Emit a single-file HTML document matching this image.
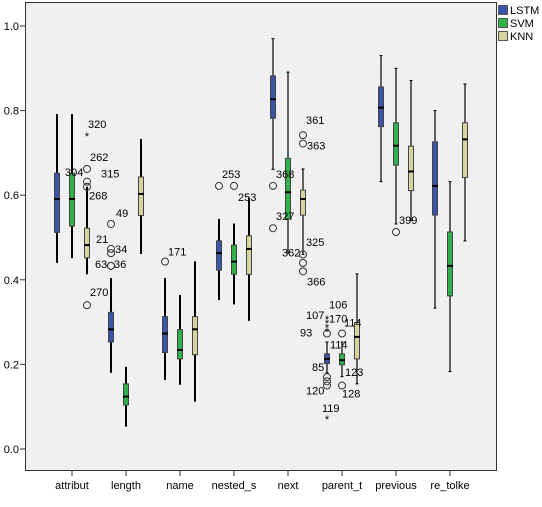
<!DOCTYPE html>
<html><head><meta charset="utf-8"><style>
body{margin:0;background:#fff;width:542px;height:502px;overflow:hidden;font-family:"Liberation Sans",sans-serif}
svg text{font-family:"Liberation Sans",sans-serif;font-size:11px;fill:#000}
</style></head><body>
<svg id="chart" width="542" height="502" xmlns="http://www.w3.org/2000/svg">
<rect x="25.5" y="2.5" width="471" height="468" fill="#f0f0f0" stroke="#333" stroke-width="1"/>
<g id="axes"></g><g id="marks"></g>
<g>
<rect x="498.5" y="5.5" width="9" height="9" fill="#3a55a8" stroke="#555"/>
<text x="510" y="14">LSTM</text>
<rect x="498.5" y="18.5" width="9" height="9" fill="#2fb24b" stroke="#555"/>
<text x="510" y="27">SVM</text>
<rect x="498.5" y="31.5" width="9" height="9" fill="#d8d3a0" stroke="#555"/>
<text x="510" y="40">KNN</text>
</g>
</svg>
<script>
const categories=["attribut","length","name","nested_s","next","parent_t","previous","re_tolke"];
const series=["LSTM","SVM","KNN"];
const yTicks=[0.0,0.2,0.4,0.6,0.8,1.0];
// [whiskerLow, q1, median, q3, whiskerHigh] per category
const lstmStats=[[0.44,0.512,0.591,0.652,0.792],[0.18,0.253,0.283,0.323,0.404],[0.163,0.228,0.273,0.313,0.404],[0.352,0.423,0.463,0.492,0.544],[0.661,0.782,0.827,0.882,0.97],[0.18,0.202,0.213,0.225,0.253],[0.632,0.762,0.807,0.856,0.93],[0.333,0.553,0.622,0.726,0.80]];
const svmStats=[[0.451,0.527,0.591,0.652,0.792],[0.053,0.104,0.124,0.154,0.194],[0.152,0.213,0.234,0.282,0.364],[0.342,0.413,0.443,0.482,0.533],[0.463,0.544,0.607,0.687,0.891],[0.171,0.199,0.21,0.225,0.253],[0.532,0.671,0.717,0.771,0.90],[0.183,0.362,0.433,0.513,0.632]];
const knnStats=[[0.413,0.452,0.482,0.522,0.62],[0.461,0.552,0.603,0.643,0.733],[0.112,0.223,0.283,0.313,0.444],[0.303,0.413,0.473,0.504,0.594],[0.46,0.553,0.591,0.612,0.662],[0.154,0.213,0.265,0.299,0.414],[0.54,0.611,0.656,0.716,0.871],[0.492,0.642,0.732,0.771,0.863]];
// outliers
const outlierCat=[0,0,0,0,0,1,1,1,1,1,2,3,3,4,4,4,4,4,4,4,5,5,5,5,5,5,5,5,5,5,5,6];
const outlierSer=[2,2,2,2,2,0,0,0,0,0,0,0,1,0,0,2,2,2,2,2,0,0,0,0,0,0,0,0,1,1,0,1];
const outlierVal=[0.742,0.662,0.632,0.62,0.34,0.532,0.473,0.463,0.433,0.433,0.443,0.622,0.622,0.622,0.522,0.742,0.722,0.46,0.44,0.42,0.31,0.30,0.29,0.273,0.17,0.16,0.15,0.073,0.273,0.15,0.28,0.513];
const outlierType=["s","o","o","o","o","o","o","o","o","o","o","o","o","o","o","o","o","o","o","o","s","s","s","o","o","o","o","s","o","o","s","o"];
const outlierLbl=["320","262","315","268","270","49","34","21","63","36","171","253","253","368","327","361","363","362","","366","","107","170","93","85","","120","119","114","128","106","399"];
const lblDx=[1,3,14,2,3,5,4,-15,-16,3,3,3,4,3,3,3,4,-21,0,4,0,-21,2,-27,-15,0,-21,-5,-12,0,2,3];
const lblDy=[-7,-8,-4,13,-9,-7,4,-10,2,2,-6,-8,15,-8,-8,-11,6,2,0,14,0,-3,-4,3,-6,0,9,-6,15,12,-22,-8];
const extraLabels=[["114",5,0.273,-13,-7],["123",5,0.199,-12,11],["325",4,0.52,3,17],["304",0,0.652,-7,3]];

const yPix=v=>449-v*423;
const xCat=i=>72+54*i;
const offs=[-15,0,15];
const fills=["#3a55a8","#2fb24b","#d8d3a0"];
const NS="http://www.w3.org/2000/svg";
const axes=document.getElementById('axes'),marks=document.getElementById('marks');
function mk(tag,attrs,parent){const e=document.createElementNS(NS,tag);for(const k in attrs)e.setAttribute(k,attrs[k]);parent.appendChild(e);return e;}

yTicks.forEach(t=>{
  const y=yPix(t);
  const tl=mk('line',{x1:20,x2:25,y1:y,y2:y,stroke:'#333'},axes);
  
  
  const tx=mk('text',{x:19,y:y+4,'text-anchor':'end'},axes);
  tx.textContent=t.toFixed(1);
  
  
});
categories.forEach((c,i)=>{
  const x=xCat(i);
  const tl=mk('line',{x1:x,x2:x,y1:471,y2:476,stroke:'#333'},axes);
  
  
  const tx=mk('text',{x:x,y:489,'text-anchor':'middle'},axes);
  tx.textContent=c;
  
  
});
const allStats=[lstmStats,svmStats,knnStats];
allStats.forEach((st,s)=>{
  st.forEach((d,i)=>{
    const x=xCat(i)+offs[s];
    const sw=i<4?2:1.2;
    const g=mk('g',{},marks);
    
    
    mk('line',{x1:x,x2:x,y1:yPix(d[0]),y2:yPix(d[4]),stroke:'#000','stroke-width':sw},g);
    if(i>=4){
      mk('line',{x1:x-1.5,x2:x+1.5,y1:yPix(d[0]),y2:yPix(d[0]),stroke:'#000','stroke-width':1},g);
      mk('line',{x1:x-1.5,x2:x+1.5,y1:yPix(d[4]),y2:yPix(d[4]),stroke:'#000','stroke-width':1},g);
    }
    mk('rect',{x:x-2.5,y:yPix(d[3]),width:5,height:yPix(d[1])-yPix(d[3]),fill:fills[s],stroke:'#444','stroke-width':1},g);
    mk('line',{x1:x-3,x2:x+3,y1:yPix(d[2]),y2:yPix(d[2]),stroke:'#000','stroke-width':2},g);
  });
});
outlierVal.forEach((v,k)=>{
  const x=xCat(outlierCat[k])+offs[outlierSer[k]];
  const y=yPix(v);
  let m;
  if(outlierType[k]==="o"){m=mk('circle',{cx:x,cy:y,r:3.5,fill:'none',stroke:'#333','stroke-width':1},marks);}
  else{m=mk('text',{x:x,y:y+5,'text-anchor':'middle','font-size':'12'},marks);m.textContent='*';}
  
  
  if(outlierLbl[k]){
    const t=mk('text',{x:x+lblDx[k],y:y+lblDy[k]},marks);
    t.textContent=outlierLbl[k];
    
    
  }
});
extraLabels.forEach(e=>{
  const x=xCat(e[1])+(e[0]==="304"?offs[1]:offs[2]);
  const t=mk('text',{x:x+e[3],y:yPix(e[2])+e[4]},marks);
  t.textContent=e[0];
  
  
});
</script>
</body></html>
